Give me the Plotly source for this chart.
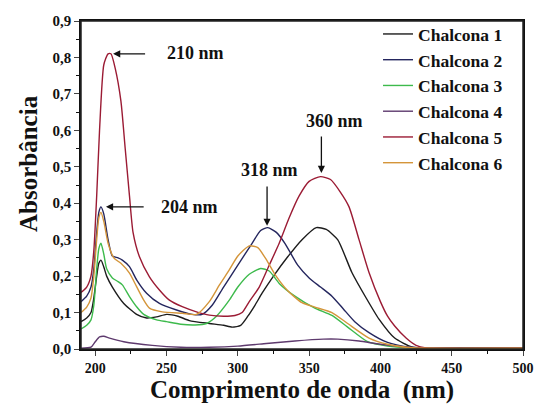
import plotly.graph_objects as go

# ---- data ----
series_names = ["Chalcona 1", "Chalcona 2", "Chalcona 3", "Chalcona 4", "Chalcona 5", "Chalcona 6"]
series_colors = ["#1c1c1c", "#24265e", "#3dba4c", "#5e3a6e", "#9b1b34", "#d4953a"]

wl_c1 = [190, 194, 197, 199, 201, 202.5, 204, 206, 208, 212, 220, 229, 236, 243, 250, 258, 266, 280, 290, 296, 302, 307, 312, 317, 325, 335, 345, 355, 362, 370, 380, 390, 399, 410, 422, 432, 450, 500]
ab_c1 = [0.075, 0.085, 0.1, 0.14, 0.2, 0.235, 0.244, 0.225, 0.2, 0.17, 0.125, 0.095, 0.085, 0.088, 0.095, 0.09, 0.078, 0.07, 0.065, 0.06, 0.065, 0.09, 0.12, 0.153, 0.2, 0.253, 0.3, 0.333, 0.328, 0.3, 0.21, 0.14, 0.082, 0.03, 0.006, 0.002, 0.002, 0.002]

wl_c2 = [190, 194, 197, 199, 201, 202.5, 204, 206, 209, 212, 216, 219, 224, 229, 236, 245, 257, 268, 275, 282, 290, 300, 310, 316, 321, 327, 333, 342, 350, 358, 366, 374, 382, 392, 405, 420, 432, 450, 500]
ab_c2 = [0.13, 0.145, 0.17, 0.22, 0.32, 0.375, 0.39, 0.37, 0.3, 0.255, 0.25, 0.244, 0.226, 0.19, 0.153, 0.125, 0.107, 0.095, 0.095, 0.12, 0.17, 0.23, 0.29, 0.325, 0.333, 0.32, 0.29, 0.23, 0.195, 0.17, 0.145, 0.11, 0.075, 0.045, 0.018, 0.005, 0.002, 0.002, 0.002]

wl_c3 = [190, 194, 197, 199, 201, 202.5, 204, 206, 208, 212, 216, 219, 224, 229, 234, 243, 250, 260, 270, 278, 285, 294, 300, 308, 316, 322, 329, 340, 354, 366, 377, 391, 405, 420, 435, 500]
ab_c3 = [0.055, 0.065, 0.08, 0.12, 0.22, 0.275, 0.29, 0.26, 0.22, 0.195, 0.185, 0.176, 0.144, 0.116, 0.095, 0.08, 0.075, 0.068, 0.066, 0.07, 0.09, 0.134, 0.17, 0.205, 0.221, 0.214, 0.18, 0.145, 0.112, 0.092, 0.06, 0.02, 0.008, 0.003, 0.002, 0.002]

wl_c4 = [190, 197, 200, 203, 206, 210, 220, 240, 260, 280, 300, 320, 340, 360, 370, 385, 400, 420, 440, 500]
ab_c4 = [0.002, 0.005, 0.02, 0.033, 0.035, 0.03, 0.02, 0.01, 0.005, 0.005, 0.008, 0.015, 0.022, 0.027, 0.027, 0.022, 0.013, 0.005, 0.002, 0.002]

wl_c5 = [190, 194, 197, 199, 201, 203, 206, 209, 211, 214, 218, 221, 224, 226.5, 231, 238, 245, 252, 261, 271, 280, 290, 298, 303, 308, 315, 322, 329, 336, 343, 350, 358, 365, 372, 378, 385, 392, 400, 405, 410, 418, 425, 432, 450, 500]
ab_c5 = [0.155, 0.17, 0.2, 0.27, 0.42, 0.6, 0.78, 0.81, 0.81, 0.77, 0.68, 0.55, 0.42, 0.32, 0.253, 0.198, 0.162, 0.134, 0.116, 0.102, 0.093, 0.09, 0.092, 0.1, 0.13, 0.17, 0.23, 0.29, 0.36, 0.42, 0.46, 0.473, 0.465, 0.43, 0.39, 0.3, 0.21, 0.13, 0.09, 0.063, 0.03, 0.01, 0.003, 0.002, 0.002]

wl_c6 = [190, 194, 197, 199, 201, 202.5, 204, 206, 209, 213, 218, 224, 229, 234, 238, 247, 261, 271, 280, 287, 294, 300, 308, 314, 320, 326, 335, 345, 354, 366, 377, 392, 405, 420, 435, 500]
ab_c6 = [0.1, 0.115, 0.14, 0.2, 0.3, 0.36, 0.375, 0.35, 0.29, 0.25, 0.235, 0.208, 0.171, 0.134, 0.112, 0.102, 0.098, 0.095, 0.13, 0.175, 0.217, 0.255, 0.283, 0.278, 0.245, 0.205, 0.16, 0.127, 0.115, 0.1, 0.07, 0.03, 0.013, 0.004, 0.002, 0.002]

all_wl = [wl_c1, wl_c2, wl_c3, wl_c4, wl_c5, wl_c6]
all_ab = [ab_c1, ab_c2, ab_c3, ab_c4, ab_c5, ab_c6]

x_ticks = [200, 250, 300, 350, 400, 450, 500]
y_ticks = [0.0, 0.1, 0.2, 0.3, 0.4, 0.5, 0.6, 0.7, 0.8, 0.9]

# peak annotations: label, arrow head (x, y), arrow tail (x, y), label position (x, y)
peak_labels = ["210 nm", "204 nm", "318 nm", "360 nm"]
peak_head = [(212.5, 0.81), (207.5, 0.39), (320.5, 0.338), (358.6, 0.483)]
peak_tail = [(236, 0.81), (235, 0.39), (320.5, 0.45), (358.6, 0.587)]
peak_text = [(270.5, 0.813), (266, 0.39), (322.5, 0.49), (367.5, 0.626)]

FONT = "Liberation Serif"

fig = go.Figure()
for name, col, wl, ab in zip(series_names, series_colors, all_wl, all_ab):
    fig.add_trace(go.Scatter(x=wl, y=ab, mode="lines", name=name,
                             line=dict(color=col, width=1.4, shape="spline", smoothing=0.6)))

annotations = []
for lab, h, t, p in zip(peak_labels, peak_head, peak_tail, peak_text):
    annotations.append(dict(x=h[0], y=h[1], ax=t[0], ay=t[1], xref="x", yref="y",
                            axref="x", ayref="y", text="", showarrow=True,
                            arrowhead=2, arrowsize=1.1, arrowwidth=1.3, arrowcolor="#111"))
    annotations.append(dict(x=p[0], y=p[1], xref="x", yref="y", text="<b>%s</b>" % lab,
                            showarrow=False, font=dict(family=FONT, size=18, color="#111")))

annotations.append(dict(x=-0.12, y=0.567, xref="paper", yref="paper", xanchor="center", yanchor="middle",
                        text="<b>Absorbância</b>",
                        textangle=-90, showarrow=False, font=dict(family=FONT, size=25, color="#111")))

# the page body has an 8px margin; size the figure so the page does not overflow the window
fig.update_layout(
    width=526, height=396,
    margin=dict(l=73, r=11, t=13, b=55, autoexpand=False),
    paper_bgcolor="white", plot_bgcolor="white",
    separators=",.",
    showlegend=True,
    legend=dict(x=0.672, y=1.015, xanchor="left", yanchor="top", bgcolor="rgba(0,0,0,0)",
                font=dict(family=FONT, size=17.5, color="#111", weight="bold"), tracegroupgap=0),
    annotations=annotations,
    shapes=[dict(type="rect", xref="paper", yref="paper", x0=0, y0=0, x1=1, y1=1,
                 line=dict(color="#222", width=1.5), fillcolor="rgba(0,0,0,0)", layer="above")],
    font=dict(family=FONT, color="#111"),
)
fig.update_xaxes(range=[190, 500], tickvals=x_ticks, ticks="outside", ticklen=5, tickwidth=1.3,
                 automargin=False, ticklabeloverflow="allow",
                 minor=dict(ticks="outside", ticklen=3, dtick=25, tick0=200, tickcolor="#111"),
                 showline=True, linecolor="#111", linewidth=1.5, mirror=True, showgrid=False, zeroline=False,
                 tickfont=dict(family=FONT, size=14, color="#111", weight="bold"),
                 title=dict(text="<b>Comprimento de onda  (nm)</b>", font=dict(family=FONT, size=25, color="#111"), standoff=8))
fig.update_yaxes(range=[0, 0.9], tickvals=y_ticks, tickformat=".1f", ticks="outside", ticklen=5, tickwidth=1.3,
                 automargin=False,
                 minor=dict(ticks="outside", ticklen=3, dtick=0.05, tick0=0, tickcolor="#111"),
                 showline=True, linecolor="#111", linewidth=1.5, mirror=True, showgrid=False, zeroline=False,
                 tickfont=dict(family=FONT, size=15, color="#111", weight="bold"))

fig.write_html("out.html")
